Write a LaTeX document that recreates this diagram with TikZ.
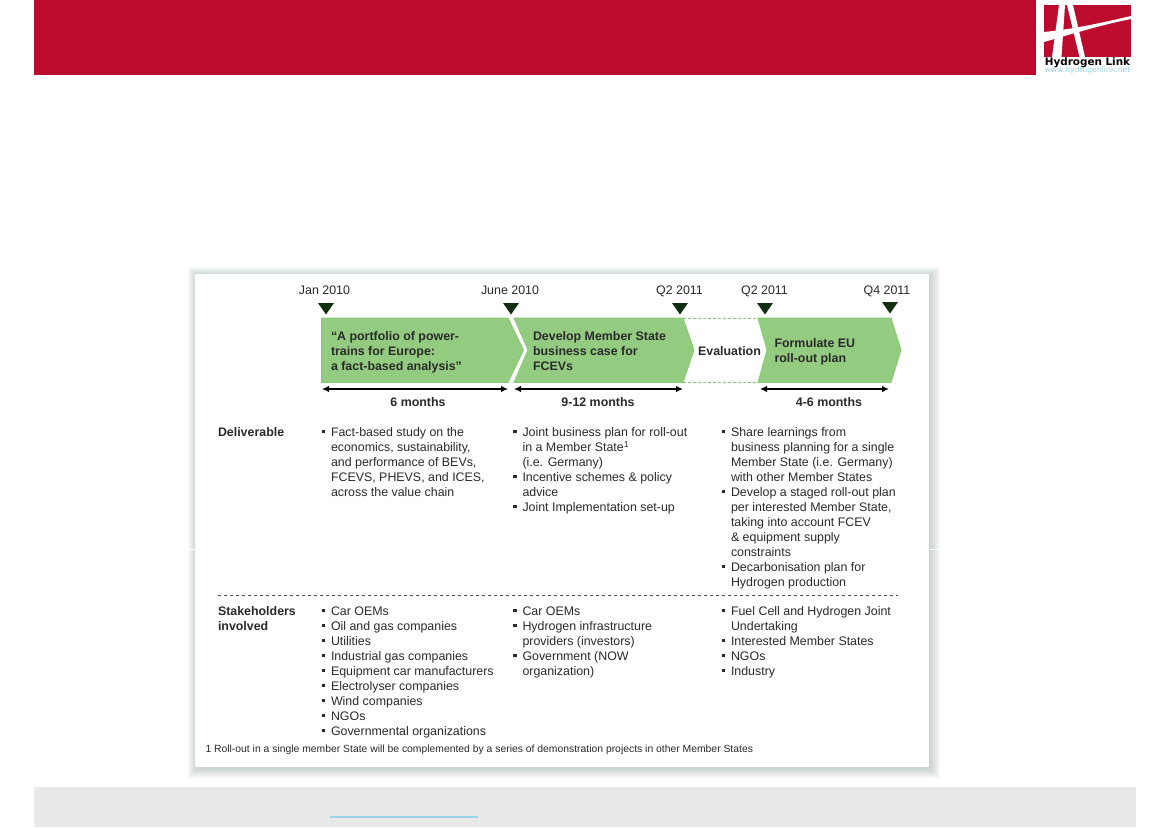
\documentclass[tikz,border=0pt]{standalone}
\usepackage{fontspec}
\setmainfont{Liberation Sans}
\newfontfamily\logofont{DejaVu Sans}
\usetikzlibrary{arrows.meta}
\definecolor{hred}{HTML}{BC0B2D}
\definecolor{hgreen}{HTML}{93CC80}
\definecolor{hedge}{HTML}{84CB6C}
\definecolor{hdark}{HTML}{12300F}
\definecolor{htext}{HTML}{2A2A2A}
\definecolor{hfoot}{HTML}{E9E9E9}
\definecolor{hcyan}{HTML}{9AD3EA}
\definecolor{hshadow}{HTML}{7F9A92}
\newcommand{\bl}{\leavevmode\llap{\raisebox{3pt}{\rule{3.6pt}{3.6pt}}\hspace{5.6pt}}}
\tikzset{
  chev/.style={fill=hgreen,draw=hedge,line width=0.8pt,line join=miter},
  mark tri/.style={fill=hdark,draw=none},
  txt/.style={inner sep=0pt,outer sep=0pt,text=htext,font=\fontsize{12.4}{15}\selectfont,align=left,anchor=north west},
  btxt/.style={txt,font=\fontsize{12.4}{15}\selectfont\bfseries},
  datelab/.style={inner sep=0pt,text=htext,font=\fontsize{12.4}{13}\selectfont,anchor=base},
  span/.style={{Latex[length=7pt,width=6.5pt]}-{Latex[length=7pt,width=6.5pt]},line width=1.3pt,black},
  evalline/.style={draw=hedge,densely dashed,line width=0.8pt},
}
\begin{document}
\begin{tikzpicture}[x=1pt,y=-1pt]
\useasboundingbox (0,0) rectangle (1169,827);
\fill[white] (0,0) rectangle (1169,827);
\fill[hred] (34,0) rectangle (1036,75);
\fill[hfoot] (34,787) rectangle (1136,827);
\fill[hcyan] (330,816) rectangle (478,818);
% logo
\fill[hred] (1044,5) rectangle (1131,57);
\fill[white] (1052,57) -- (1061.5,57) -- (1065,5) -- (1059,5) -- cycle;
\fill[white] (1067,5) -- (1073,5) -- (1085,57) -- (1079.5,57) -- cycle;
\fill[white] (1044,32) .. controls (1075,29) and (1105,22) .. (1131,16) -- (1131,19) .. controls (1105,24) and (1075,33) .. (1044,42) -- cycle;
\node[inner sep=0pt,font=\logofont\fontsize{10.4}{10}\selectfont\bfseries,text=black] (logoname) at (1087.5,62.5) {Hydrogen Link};
\node[inner sep=0pt,font=\logofont\fontsize{7.7}{8}\selectfont,text=hcyan] (logourl) at (1087.5,70.5) {www.hydrogenlink.net};
% panel shadow
\foreach \o in {11,10,...,1}{
  \fill[hshadow,opacity=.045,rounded corners=2pt] ({195-max(0.8*\o-2,-1)},{274-max(0.8*\o-2,-1)}) rectangle (929+\o,767+\o);
}
\draw[white,line width=0.6pt] (187,549.5) -- (940,549.5);
\fill[white] (195,274) rectangle (929,767);
% chevrons
\draw[chev] (321.5,318) -- (508,318) -- (523.5,350) -- (508,382.5) -- (321.5,382.5) -- cycle;
\draw[chev] (514,318) -- (683,318) -- (694,350) -- (683,382.5) -- (514,382.5) -- (528,350) -- cycle;
\draw[chev] (758,318) -- (891,318) -- (901,350) -- (891,382.5) -- (758,382.5) -- (767,350) -- cycle;
\draw[evalline] (683,318.5) -- (758,318.5);
\draw[evalline] (683,382.5) -- (758,382.5);
% markers
\fill[mark tri] (318,303) -- (334,303) -- (326,314.5) -- cycle;
\fill[mark tri] (503,303) -- (519,303) -- (511,314.5) -- cycle;
\fill[mark tri] (672,303) -- (688,303) -- (680,314.5) -- cycle;
\fill[mark tri] (757,303) -- (773,303) -- (765,314.5) -- cycle;
\fill[mark tri] (882,302) -- (898,302) -- (890,313.5) -- cycle;
\node[datelab] (d1) at (324.5,294.5) {Jan 2010};
\node[datelab] (d2) at (510,294.5) {June 2010};
\node[datelab] (d3) at (679.5,294.5) {Q2 2011};
\node[datelab] (d4) at (764.5,294.5) {Q2 2011};
\node[datelab] (d5) at (887,294.5) {Q4 2011};
% chevron text
\node[btxt] (c1) at (331,332) {“A portfolio of power-\\trains for Europe:\\a fact-based analysis”};
\node[btxt] (c2) at (533,332) {Develop Member State\\business case for\\FCEVs};
\node[btxt,anchor=center] (ev) at (729.5,351) {Evaluation};
\node[btxt] (c3) at (774.5,339) {Formulate EU\\roll-out plan};
% spans
\coordinate (a1) at (322,389); \coordinate (a2) at (508,389);
\coordinate (b1) at (514,389); \coordinate (b2) at (683,389);
\coordinate (e1) at (760,389); \coordinate (e2) at (889,389);
\draw[span] (a1) -- (a2);
\draw[span] (b1) -- (b2);
\draw[span] (e1) -- (e2);
\node[btxt,anchor=center] (m1) at (418,402) {6 months};
\node[btxt,anchor=center] (m2) at (598,402) {9-12 months};
\node[btxt,anchor=center] (m3) at (829,402) {4-6 months};
% rows
\node[btxt] (r1) at (218,427.5) {Deliverable};
\draw[dashed,draw=black!70,line width=0.5pt] (218,595.5) -- (898,595.5);
\node[btxt] (r2) at (218,606.5) {Stakeholders\\involved};
% deliverables
\node[txt] (del1) at (331,427.5) {\bl Fact-based study on the\\economics, sustainability,\\and performance of BEVs,\\FCEVS, PHEVS, and ICES,\\across the value chain};
\node[txt] (del2) at (522.5,427.5) {\bl Joint business plan for roll-out\\in a Member State\textsuperscript{1}\\(i.e. Germany)\\\bl Incentive schemes \& policy\\advice\\\bl Joint Implementation set-up};
\node[txt] (del3) at (731,427.5) {\bl Share learnings from\\business planning for a single\\Member State (i.e. Germany)\\with other Member States\\\bl Develop a staged roll-out plan\\per interested Member State,\\taking into account FCEV\\\& equipment supply\\constraints\\\bl Decarbonisation plan for\\Hydrogen production};
% stakeholders
\node[txt] (st1) at (331,606.5) {\bl Car OEMs\\\bl Oil and gas companies\\\bl Utilities\\\bl Industrial gas companies\\\bl Equipment car manufacturers\\\bl Electrolyser companies\\\bl Wind companies\\\bl NGOs\\\bl Governmental organizations};
\node[txt] (st2) at (522.5,606.5) {\bl Car OEMs\\\bl Hydrogen infrastructure\\providers (investors)\\\bl Government (NOW\\organization)};
\node[txt] (st3) at (731,606.5) {\bl Fuel Cell and Hydrogen Joint\\Undertaking\\\bl Interested Member States\\\bl NGOs\\\bl Industry};
\node[txt,font=\fontsize{10.37}{11}\selectfont] (fn) at (205.5,745) {1 Roll-out in a single member State will be complemented by a series of demonstration projects in other Member States};
\end{tikzpicture}
\end{document}
